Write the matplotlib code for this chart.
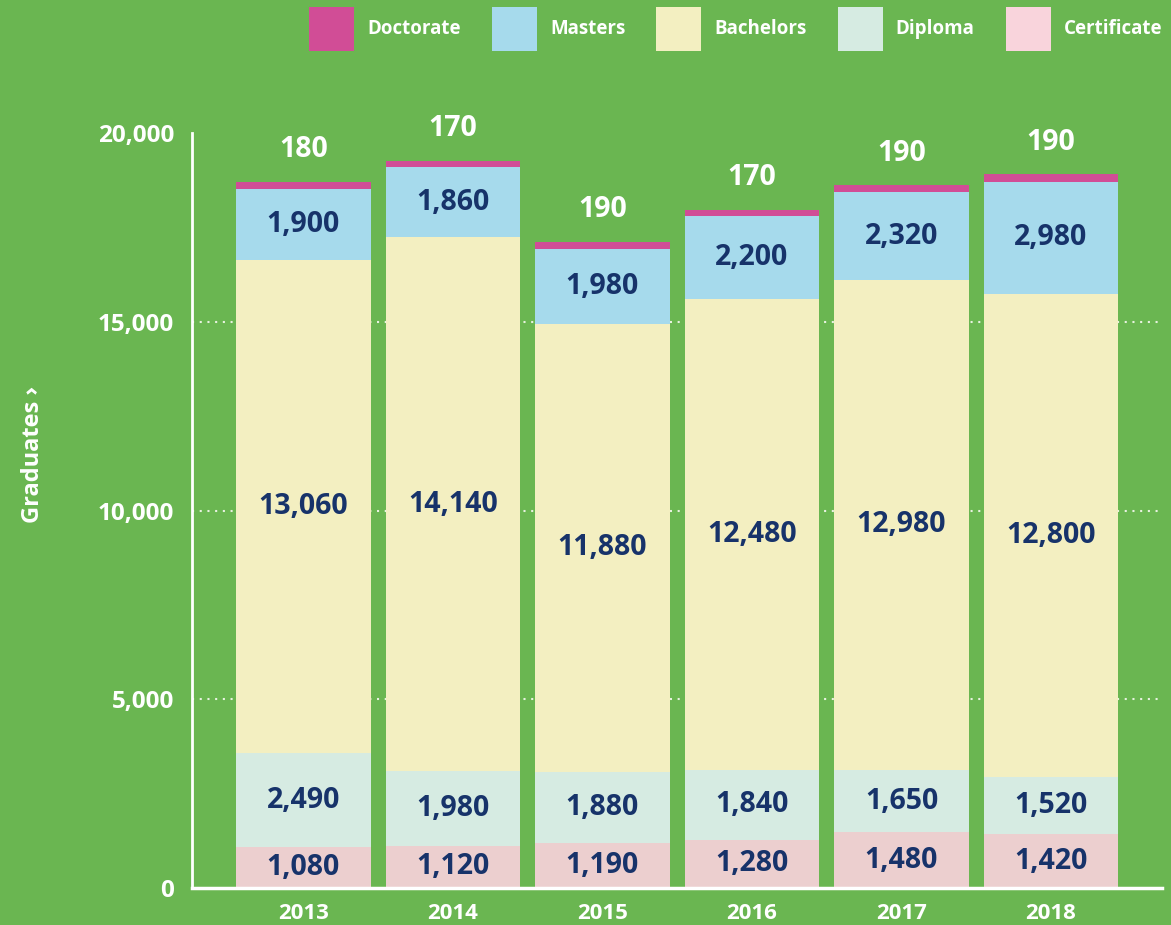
import numpy as np
import matplotlib
matplotlib.use('Agg')
import matplotlib.pyplot as plt
from matplotlib.patches import Patch

plt.rcParams['font.family'] = ['Open Sans', 'DejaVu Sans']

# --- data ---
years = ['2013', '2014', '2015', '2016', '2017', '2018']
certificate = [1080, 1120, 1190, 1280, 1480, 1420]
diploma = [2490, 1980, 1880, 1840, 1650, 1520]
bachelors = [13060, 14140, 11880, 12480, 12980, 12800]
masters = [1900, 1860, 1980, 2200, 2320, 2980]
doctorate = [180, 170, 190, 170, 190, 190]

BG = '#6AB651'
NAVY = '#17336A'
series = [
    ('Certificate', certificate, '#ECCFCF', '#F9D4DC'),
    ('Diploma', diploma, '#D6EBE2', '#D6EBE2'),
    ('Bachelors', bachelors, '#F3EFC1', '#F3EFC1'),
    ('Masters', masters, '#A6DAEC', '#A6DAEC'),
    ('Doctorate', doctorate, '#D14D96', '#D14D96'),
]

fig = plt.figure(figsize=(11.71, 9.25), dpi=100, facecolor=BG)
ax = fig.add_axes([0.164, 0.04, 0.828, 0.816])
ax.set_facecolor(BG)

x = np.arange(len(years))
bottom = np.zeros(len(years))
for name, vals, col, _ in series:
    vals = np.array(vals, dtype=float)
    ax.bar(x, vals, width=0.9, bottom=bottom, color=col, zorder=2, linewidth=0)
    if name != 'Doctorate':
        for xi, b, v in zip(x, bottom, vals):
            ax.text(xi, b + v / 2, f'{int(v):,}', ha='center', va='center',
                    fontsize=20.5, fontweight='bold', color=NAVY, zorder=3)
    else:
        # thin top segment: value goes above the bar in white
        for xi, b, v in zip(x, bottom, vals):
            ax.annotate(f'{int(v):,}', (xi, b + v), xytext=(0, 23),
                        textcoords='offset points', ha='center', va='center',
                        fontsize=20.5, fontweight='bold', color='white',
                        annotation_clip=False)
    bottom += vals

ax.set_xlim(-0.745, 5.74)
ax.set_ylim(0, 20000)
ax.set_yticks([0, 5000, 10000, 15000, 20000])
ax.set_yticklabels([f'{v:,}' for v in [0, 5000, 10000, 15000, 20000]])
ax.set_xticks(x)
ax.set_xticklabels(years)
ax.tick_params(axis='both', length=0, colors='white')
ax.tick_params(axis='y', pad=13, labelsize=17.5)
ax.tick_params(axis='x', pad=11, labelsize=16)
for lbl in ax.get_xticklabels() + ax.get_yticklabels():
    lbl.set_fontweight('bold')

for yv in [5000, 10000, 15000]:
    ax.axhline(yv, color='#E8F2E0', lw=1.5, ls=(0, (1, 2.7)), zorder=1)

for s in ['top', 'right']:
    ax.spines[s].set_visible(False)
ax.spines['left'].set_color('white')
ax.spines['left'].set_linewidth(2)
ax.spines['bottom'].set_color('white')
ax.spines['bottom'].set_linewidth(2.5)

ax.set_ylabel('Graduates ›', color='white', fontsize=17, fontweight='bold')
ax.yaxis.set_label_coords(-0.152, 0.575)

handles = [Patch(facecolor=lc, edgecolor='none', label=name)
           for name, _, _, lc in reversed(series)]
leg = fig.legend(handles=handles, loc='upper right', bbox_to_anchor=(1.0005, 1.003),
                 ncol=5, frameon=False, handlelength=2.4, handleheight=3.25,
                 columnspacing=1.65, handletextpad=0.7, borderpad=0,
                 prop={'weight': 'bold', 'size': 13.5})
for t in leg.get_texts():
    t.set_color('white')

fig.savefig('out.png', dpi=100, facecolor=BG)
